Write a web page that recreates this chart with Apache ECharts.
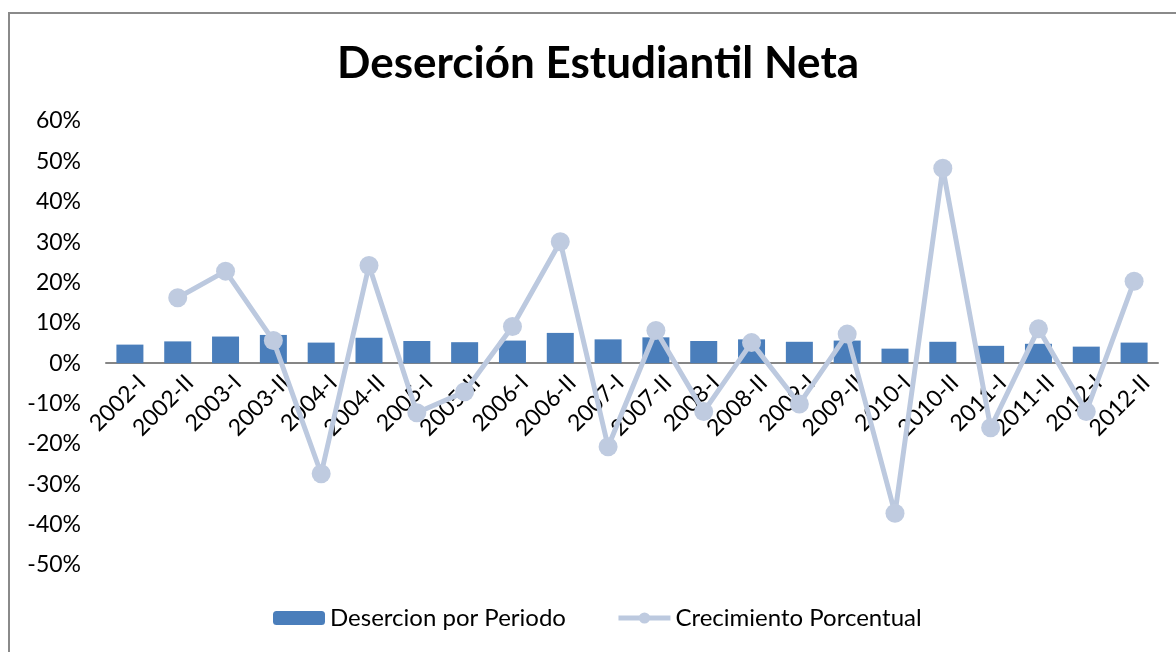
<!DOCTYPE html>
<html>
<head>
<meta charset="utf-8">
<script src="https://cdn.jsdelivr.net/npm/echarts@6/dist/echarts.min.js"></script>
<style>
  html, body { margin: 0; padding: 0; background: #fff; }
  #chart { width: 1176px; height: 652px; }
</style>
</head>
<body>
<div id="chart"></div>
<script>
var periodos = ["2002-I", "2002-II", "2003-I", "2003-II", "2004-I", "2004-II", "2005-I", "2005-II",
  "2006-I", "2006-II", "2007-I", "2007-II", "2008-I", "2008-II", "2009-I", "2009-II",
  "2010-I", "2010-II", "2011-I", "2011-II", "2012-I", "2012-II"];
// valores en %
var desercion = [4.6, 5.4, 6.6, 7.0, 5.1, 6.3, 5.5, 5.2, 5.6, 7.5, 5.9, 6.4, 5.5, 5.9, 5.3, 5.6, 3.6, 5.3, 4.3, 4.8, 4.1, 5.1];
var crecimiento = [null, 16.2, 22.8, 5.6, -27.4, 24.2, -12.3, -7.1, 9.1, 30.1, -20.7, 8.1, -12.0, 5.1, -10.1, 7.2, -37.2, 48.3, -16.0, 8.5, -12.0, 20.3];

(function () {
  var myChart = echarts.init(document.getElementById("chart"));
  var fuente = "Lato, 'Open Sans', sans-serif";

  var option = {
    animation: false,
    backgroundColor: "#fff",
    title: {
      text: "Deserción Estudiantil Neta",
      left: 332,
      top: 37,
      textStyle: { fontFamily: fuente, fontSize: 44, fontWeight: "bold", color: "#000" }
    },
    graphic: [{
      type: "rect",
      shape: { x: 9, y: 13, width: 1200, height: 700 },
      style: { fill: "none", stroke: "#8a8a8a", lineWidth: 2 },
      silent: true
    }],
    legend: {
      bottom: 17,
      left: 268,
      itemWidth: 52,
      itemHeight: 14,
      itemGap: 50,
      textStyle: { fontFamily: fuente, fontSize: 24, color: "#000" },
      data: [
        "Desercion por Periodo",
        { name: "Crecimiento Porcentual", lineStyle: { width: 5 } }
      ]
    },
    // segundo grid solo para poner las etiquetas de categoria sobre la linea del 0%
    grid: [
      { left: 106, right: 18, top: 121, bottom: 87 },
      { left: 118, right: 6, top: 121, bottom: 289 }
    ],
    xAxis: [
      {
        type: "category",
        data: periodos,
        axisLine: { onZero: true, lineStyle: { color: "#868686", width: 2 } },
        axisTick: { show: false },
        axisLabel: { show: false }
      },
      {
        type: "category",
        gridIndex: 1,
        data: periodos,
        axisLine: { show: false },
        axisTick: { show: false },
        axisLabel: { rotate: 45, interval: 0, fontFamily: fuente, fontSize: 23, color: "#000", margin: 16 }
      }
    ],
    yAxis: [
      {
        type: "value",
        min: -50,
        max: 60,
        interval: 10,
        splitLine: { show: false },
        axisLine: { show: false },
        axisTick: { show: false },
        axisLabel: { formatter: "{value}%", fontFamily: fuente, fontSize: 23, color: "#000", margin: 25 }
      },
      { type: "value", gridIndex: 1, min: 0, max: 1, show: false }
    ],
    series: [
      {
        name: "Desercion por Periodo",
        type: "bar",
        data: desercion,
        barWidth: 27,
        itemStyle: { color: "#4a7ebb" }
      },
      {
        name: "Crecimiento Porcentual",
        type: "line",
        data: crecimiento,
        symbol: "circle",
        symbolSize: 19,
        lineStyle: { color: "#bcc9df", width: 5 },
        itemStyle: { color: "#bfcbe0" },
        z: 3
      }
    ]
  };

  myChart.setOption(option);
})();
</script>
</body>
</html>
